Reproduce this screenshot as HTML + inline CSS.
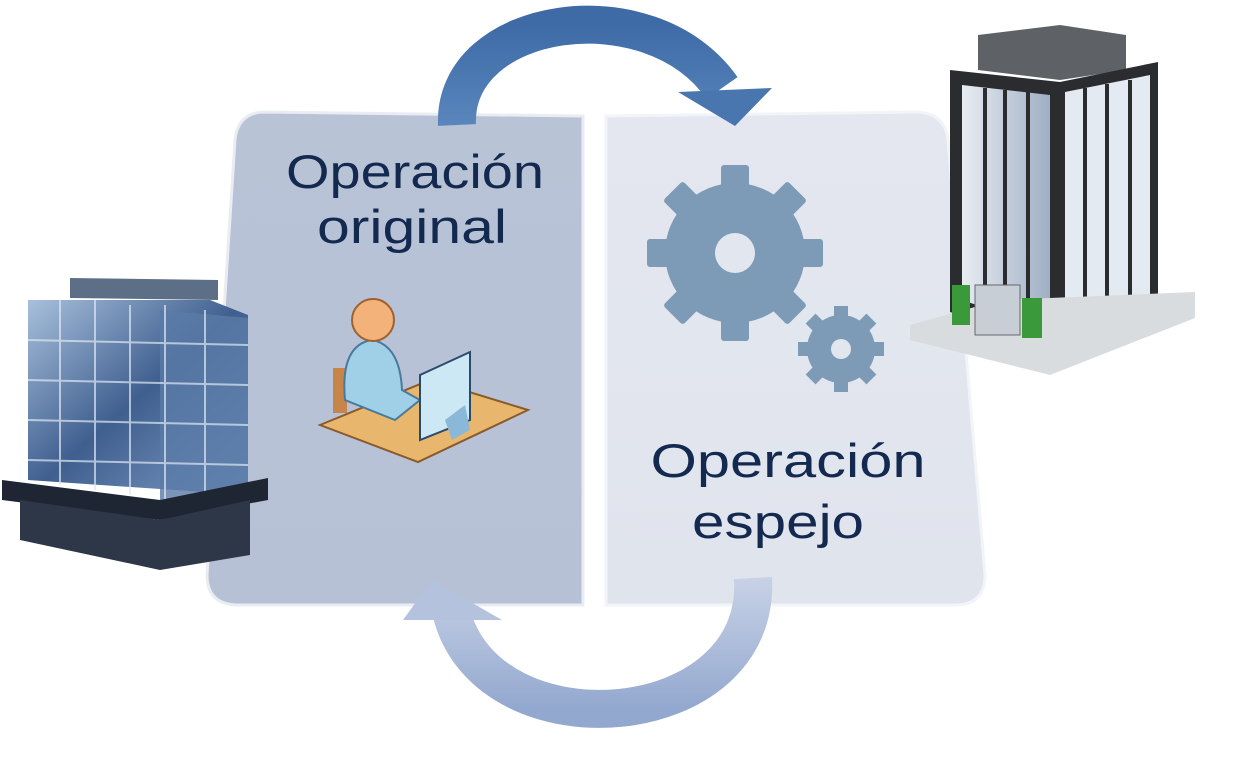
<!DOCTYPE html>
<html><head><meta charset="utf-8"><style>html,body{margin:0;padding:0;background:#fff}svg{display:block}</style></head>
<body>
<svg width="1238" height="759" viewBox="0 0 1238 759" xmlns="http://www.w3.org/2000/svg">
<defs>
<linearGradient id="lp" x1="0" y1="0" x2="0" y2="1"><stop offset="0" stop-color="#b9c3d6"/><stop offset="1" stop-color="#b6c1d6"/></linearGradient>
<linearGradient id="rp" x1="0" y1="0" x2="0" y2="1"><stop offset="0" stop-color="#e4e7ef"/><stop offset="1" stop-color="#e0e4ed"/></linearGradient>
<linearGradient id="ta" x1="0" y1="0" x2="0" y2="1"><stop offset="0" stop-color="#3e6aa6"/><stop offset="1" stop-color="#5a86bd"/></linearGradient>
<linearGradient id="ba" x1="0" y1="0" x2="0" y2="1"><stop offset="0" stop-color="#c8d2e6"/><stop offset="1" stop-color="#93a8cf"/></linearGradient>
<linearGradient id="gl" x1="0" y1="0" x2="1" y2="1"><stop offset="0" stop-color="#a8c0dc"/><stop offset="0.5" stop-color="#3f5f8f"/><stop offset="1" stop-color="#7f9cc4"/></linearGradient>
<linearGradient id="gr" x1="0" y1="0" x2="1" y2="0"><stop offset="0" stop-color="#e8ecf2"/><stop offset="1" stop-color="#9fb0c4"/></linearGradient>
</defs>
<!-- panels -->
<path d="M265,112 L583,116 L583,605 L235,605 Q207,603 207,575 L235,140 Q238,112 265,112 Z" fill="url(#lp)" stroke="#e9edf3" stroke-width="3"/>
<path d="M606,116 L915,112 Q945,112 948,140 L985,575 Q985,605 955,605 L606,605 Z" fill="url(#rp)" stroke="#f2f4f8" stroke-width="3"/>
<!-- top arrow -->
<path d="M457,125 C452,15 650,-15 722,88" fill="none" stroke="url(#ta)" stroke-width="38"/>
<polygon points="678,92 772,88 735,126" fill="#4a76b0"/>
<!-- bottom arrow -->
<path d="M753,578 C762,735 490,755 452,615" fill="none" stroke="url(#ba)" stroke-width="38"/>
<polygon points="403,620 502,620 432,580" fill="#b4c2de"/>
<!-- texts -->
<g font-family="Liberation Sans, sans-serif" fill="#13294f" font-size="47" text-anchor="middle">
<text x="415" y="188" textLength="258" lengthAdjust="spacingAndGlyphs">Operación</text>
<text x="412" y="243" textLength="190" lengthAdjust="spacingAndGlyphs">original</text>
<text x="788" y="477" textLength="275" lengthAdjust="spacingAndGlyphs">Operación</text>
<text x="778" y="538" textLength="172" lengthAdjust="spacingAndGlyphs">espejo</text>
</g>
<!-- gears -->
<g fill="#7d9ab7">
<circle cx="735" cy="253" r="70"/>
<g transform="translate(735,253)">
<rect x="-14" y="-88" width="28" height="30" rx="3"/><rect x="-14" y="-88" width="28" height="30" rx="3" transform="rotate(45)"/><rect x="-14" y="-88" width="28" height="30" rx="3" transform="rotate(90)"/><rect x="-14" y="-88" width="28" height="30" rx="3" transform="rotate(135)"/><rect x="-14" y="-88" width="28" height="30" rx="3" transform="rotate(180)"/><rect x="-14" y="-88" width="28" height="30" rx="3" transform="rotate(225)"/><rect x="-14" y="-88" width="28" height="30" rx="3" transform="rotate(270)"/><rect x="-14" y="-88" width="28" height="30" rx="3" transform="rotate(315)"/>
</g>
<circle cx="841" cy="349" r="34"/>
<g transform="translate(841,349)">
<rect x="-7" y="-43" width="14" height="14"/><rect x="-7" y="-43" width="14" height="14" transform="rotate(45)"/><rect x="-7" y="-43" width="14" height="14" transform="rotate(90)"/><rect x="-7" y="-43" width="14" height="14" transform="rotate(135)"/><rect x="-7" y="-43" width="14" height="14" transform="rotate(180)"/><rect x="-7" y="-43" width="14" height="14" transform="rotate(225)"/><rect x="-7" y="-43" width="14" height="14" transform="rotate(270)"/><rect x="-7" y="-43" width="14" height="14" transform="rotate(315)"/>
</g>
</g>
<circle cx="735" cy="253" r="20" fill="#e2e6ee"/>
<circle cx="841" cy="349" r="10" fill="#e2e6ee"/>
<!-- person at desk -->
<polygon points="320,425 430,380 528,410 418,462" fill="#e8b76d" stroke="#8a5a2a" stroke-width="2"/>
<rect x="333" y="368" width="14" height="45" fill="#c8854a"/>
<path d="M345,400 Q340,345 372,340 Q400,345 402,390 L420,400 L395,420 Z" fill="#9fd0e8" stroke="#4a7a9a" stroke-width="2"/>
<circle cx="373" cy="320" r="21" fill="#f2b27a" stroke="#a06030" stroke-width="2"/>
<polygon points="420,375 470,352 470,420 420,440" fill="#cde8f5" stroke="#2a4a6a" stroke-width="2"/>
<polygon points="445,420 465,405 470,430 452,440" fill="#8ab8d8"/>
<!-- left building -->
<polygon points="70,278 218,280 218,300 70,298" fill="#5d6f86"/>
<polygon points="28,300 210,300 248,315 248,495 28,480" fill="url(#gl)"/>
<polygon points="160,310 248,318 248,495 160,510" fill="#5a7aa8" opacity="0.8"/>
<g stroke="#dfe8f3" stroke-width="2" opacity="0.7">
<line x1="28" y1="340" x2="248" y2="345"/><line x1="28" y1="380" x2="248" y2="385"/><line x1="28" y1="420" x2="248" y2="425"/><line x1="28" y1="460" x2="248" y2="465"/>
<line x1="60" y1="300" x2="60" y2="485"/><line x1="95" y1="300" x2="95" y2="490"/><line x1="130" y1="305" x2="130" y2="495"/><line x1="165" y1="305" x2="165" y2="505"/><line x1="205" y1="310" x2="205" y2="500"/>
</g>
<polygon points="2,480 160,500 268,478 268,500 160,520 2,500" fill="#1e2633"/>
<polygon points="20,500 160,520 250,500 250,555 160,570 20,540" fill="#2d3748"/>
<!-- right building -->
<polygon points="978,35 1060,25 1126,35 1126,70 1060,80 978,70" fill="#5e6166"/>
<polygon points="950,70 1060,82 1158,62 1158,300 1060,345 950,312" fill="#2a2c30"/>
<polygon points="962,85 1050,95 1050,330 962,300" fill="url(#gr)"/>
<polygon points="1065,92 1150,75 1150,295 1065,330" fill="#e4eaf1"/>
<g stroke="#2a2c30" stroke-width="4">
<line x1="985" y1="88" x2="985" y2="305"/><line x1="1005" y1="90" x2="1005" y2="315"/><line x1="1028" y1="92" x2="1028" y2="322"/>
<line x1="1085" y1="88" x2="1085" y2="322"/><line x1="1107" y1="84" x2="1107" y2="313"/><line x1="1130" y1="80" x2="1130" y2="303"/>
</g>
<polygon points="910,325 1000,300 1195,292 1195,318 1050,375 910,340" fill="#d9dcdf"/>
<rect x="975" y="285" width="45" height="50" fill="#c8ced6" stroke="#666"/>
<rect x="952" y="285" width="18" height="40" fill="#3a9a3a"/><rect x="1022" y="298" width="20" height="40" fill="#3a9a3a"/>
</svg>
</body></html>
